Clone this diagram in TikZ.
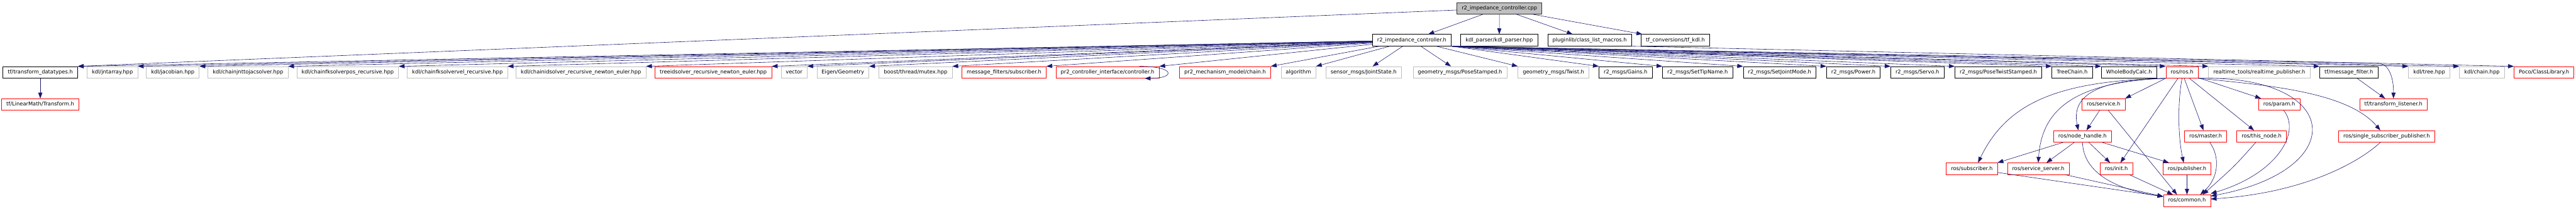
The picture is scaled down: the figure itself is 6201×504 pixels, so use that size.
\documentclass[tikz,border=0pt]{standalone}
\usepackage{fontspec}
\setmainfont{DejaVu Sans}
\usepackage{tikz}
\usetikzlibrary{arrows.meta}
\definecolor{edgeblue}{RGB}{25,25,112}
\definecolor{extgrey}{RGB}{191,191,191}

\begin{document}
\begin{tikzpicture}[x=1pt,y=-1pt,
  every node/.style={rectangle,draw,line width=1pt,minimum height=28pt,inner xsep=11.5pt,inner ysep=0pt,
    text height=9.4pt,text depth=2.6pt,font=\fontsize{12.6}{15}\selectfont},
  root/.style={fill=extgrey,draw=black!80},
  local/.style={draw=black},
  ext/.style={draw=extgrey},
  trunc/.style={draw=red},
  dep/.style={draw=edgeblue,line width=0.9pt,-{Triangle[length=14pt,width=10pt]}}]
  \path[fill=white] (0,0) rectangle (6201,504);
  \useasboundingbox (0,0) rectangle (6201,504);
  \node[root] (cpp) at (3609.5,20) {r2\_impedance\_controller.cpp};
  \node[local] (rich) at (3398.5,97) {r2\_impedance\_controller.h};
  \node[local] (kdlp) at (3609,97) {kdl\_parser/kdl\_parser.hpp};
  \node[local] (plug) at (3826.5,97) {pluginlib/class\_list\_macros.h};
  \node[local] (tfkdl) at (4033,97) {tf\_conversions/tf\_kdl.h};
  \node[local] (tfdt) at (97,174.5) {tf/transform\_datatypes.h};
  \node[ext] (jnt) at (270.5,174.5) {kdl/jntarray.hpp};
  \node[ext] (jac) at (416,174.5) {kdl/jacobian.hpp};
  \node[ext] (jtoj) at (597,174.5) {kdl/chainjnttojacsolver.hpp};
  \node[ext] (fkpos) at (837,174.5) {kdl/chainfksolverpos\_recursive.hpp};
  \node[ext] (fkvel) at (1101,174.5) {kdl/chainfksolvervel\_recursive.hpp};
  \node[ext] (idne) at (1398.5,174.5) {kdl/chainidsolver\_recursive\_newton\_euler.hpp};
  \node[trunc] (treeid) at (1717,174.5) {treeidsolver\_recursive\_newton\_euler.hpp};
  \node[ext] (vec) at (1911.5,174.5) {vector};
  \node[ext] (eigen) at (2029,174.5) {Eigen/Geometry};
  \node[ext] (mutex) at (2204,174.5) {boost/thread/mutex.hpp};
  \node[trunc] (mfsub) at (2417,174.5) {message\_filters/subscriber.h};
  \node[trunc] (ctrl) at (2666,174.5) {pr2\_controller\_interface/controller.h};
  \node[trunc] (mchain) at (2949,174.5) {pr2\_mechanism\_model/chain.h};
  \node[ext] (algo) at (3125.5,174.5) {algorithm};
  \node[ext] (jstate) at (3282.5,174.5) {sensor\_msgs/JointState.h};
  \node[ext] (pstamp) at (3514.5,174.5) {geometry\_msgs/PoseStamped.h};
  \node[ext] (twist) at (3739.5,174.5) {geometry\_msgs/Twist.h};
  \node[local] (gains) at (3913,174.5) {r2\_msgs/Gains.h};
  \node[local] (tipname) at (4086.5,174.5) {r2\_msgs/SetTipName.h};
  \node[local] (jmode) at (4284,174.5) {r2\_msgs/SetJointMode.h};
  \node[local] (power) at (4461.5,174.5) {r2\_msgs/Power.h};
  \node[local] (servo) at (4615.5,174.5) {r2\_msgs/Servo.h};
  \node[local] (ptwist) at (4810.5,174.5) {r2\_msgs/PoseTwistStamped.h};
  \node[local] (tchain) at (4988,174.5) {TreeChain.h};
  \node[local] (wbody) at (5125,174.5) {WholeBodyCalc.h};
  \node[trunc] (ros) at (5252.5,174.5) {ros/ros.h};
  \node[ext] (rtpub) at (5438.5,174.5) {realtime\_tools/realtime\_publisher.h};
  \node[local] (mfilter) at (5654,174.5) {tf/message\_filter.h};
  \node[ext] (ktree) at (5847.5,174.5) {kdl/tree.hpp};
  \node[ext] (kchain) at (5974.5,174.5) {kdl/chain.hpp};
  \node[trunc] (poco) at (6124,174.5) {Poco/ClassLibrary.h};
  \node[trunc] (ltrans) at (97,252) {tf/LinearMath/Transform.h};
  \node[trunc] (service) at (5063.5,252) {ros/service.h};
  \node[trunc] (param) at (5486.5,252) {ros/param.h};
  \node[trunc] (listener) at (5761.5,252) {tf/transform\_listener.h};
  \node[trunc] (nhandle) at (5013,329) {ros/node\_handle.h};
  \node[trunc] (master) at (5309.5,329) {ros/master.h};
  \node[trunc] (thisnode) at (5444,329) {ros/this\_node.h};
  \node[trunc] (single) at (5745,329) {ros/single\_subscriber\_publisher.h};
  \node[trunc] (subscr) at (4746.5,407) {ros/subscriber.h};
  \node[trunc] (sserver) at (4906.5,407) {ros/service\_server.h};
  \node[trunc] (init) at (5094.5,407) {ros/init.h};
  \node[trunc] (publ) at (5264.5,407) {ros/publisher.h};
  \node[trunc] (common) at (5264.5,484) {ros/common.h};
  \coordinate (lbend) at (5730,153);

  \draw[dep] (cpp) -- (rich); \draw[dep] (cpp) -- (kdlp); \draw[dep] (cpp) -- (plug);
  \draw[dep] (cpp) -- (tfkdl); \draw[dep] (cpp) -- (tfdt.north east);
  \draw[dep] (rich) -- (tfdt.north east); \draw[dep] (rich) -- (jnt.north east);
  \draw[dep] (rich) -- (jac.north east); \draw[dep] (rich) -- (jtoj.north east);
  \draw[dep] (rich) -- (fkpos.north east); \draw[dep] (rich) -- (fkvel.north east);
  \draw[dep] (rich) -- (idne.north east); \draw[dep] (rich) -- (treeid.north east);
  \draw[dep] (rich) -- (vec.north east); \draw[dep] (rich) -- (eigen.north east);
  \draw[dep] (rich) -- (mutex.north east); \draw[dep] (rich) -- (mfsub.north east);
  \draw[dep] (rich) -- (ctrl.north east); \draw[dep] (rich) -- (mchain.north east);
  \draw[dep] (rich) -- (algo.north east); \draw[dep] (rich) -- (jstate);
  \draw[dep] (rich) -- (pstamp); \draw[dep] (rich) -- (twist.north west);
  \draw[dep] (rich.south east) -- (gains.north west); \draw[dep] (rich.south east) -- (tipname.north west);
  \draw[dep] (rich.south east) -- (jmode.north west); \draw[dep] (rich.south east) -- (power.north west);
  \draw[dep] (rich.south east) -- (servo.north west); \draw[dep] (rich.south east) -- (ptwist.north west);
  \draw[dep] (rich.south east) -- (tchain.north west); \draw[dep] (rich.south east) -- (wbody.north west);
  \draw[dep] (rich.south east) -- (ros.north west); \draw[dep] (rich.south east) -- (rtpub.north west);
  \draw[dep] (rich.south east) -- (mfilter.north west); \draw[dep] (rich.south east) -- (ktree.north west);
  \draw[dep] (rich.south east) -- (kchain.north west);
  \draw[dep] (rich.south east) -- (lbend) .. controls (5752,158) and (5762,190) .. (listener.north);
  \draw[dep] (plug.south east) -- (poco.north west);
  \draw[dep] ([xshift=-48pt]ctrl.north east) .. controls (2830,160) and (2830,189) .. ([xshift=-35pt]ctrl.south east);
  \draw[dep] (tfdt) -- (ltrans);
  \draw[dep] (mfilter) -- (listener);

  \draw[dep] (ros.south west) -- (service.north east);
  \draw[dep] (ros.south west) .. controls (5050,192) and (4985,230) .. ([xshift=-10pt]nhandle.north);
  \draw[dep] (ros.south west) .. controls (4950,195) and (4830,250) .. ([xshift=15pt]subscr.north);
  \draw[dep] (ros.south west) .. controls (5000,197) and (4915,260) .. (sserver.north);
  \draw[dep] (ros) -- (init); \draw[dep] (ros) -- (master);
  \draw[dep] (ros) -- (thisnode); \draw[dep] (ros) -- (param);
  \draw[dep] (ros.south) .. controls (5240,260) and (5245,340) .. ([xshift=-8pt]publ.north);
  \draw[dep] (ros.south east) .. controls (5450,205) and (5650,220) .. ([xshift=-15pt]single.north);
  \draw[dep] (ros.south east) .. controls (5640,180) and (5660,410) .. ([yshift=11pt]common.east);
  \draw[dep] (service) -- (nhandle);
  \draw[dep] (service) -- ([xshift=-24pt]common.north);
  \draw[dep] (nhandle) -- (subscr.north east); \draw[dep] (nhandle) -- (sserver);
  \draw[dep] (nhandle) -- (init); \draw[dep] (nhandle) -- ([xshift=15pt]publ.north west);
  \draw[dep] (nhandle.south) .. controls (5015,410) and (5080,455) .. ([yshift=10pt]common.west);
  \draw[dep] (subscr) -- ([yshift=10pt]common.west);
  \draw[dep] (sserver) -- ([yshift=10pt]common.west);
  \draw[dep] (init) -- ([xshift=-34pt]common.north);
  \draw[dep] (publ) -- (common);
  \draw[dep] ([xshift=10pt]master.south) .. controls (5345,380) and (5340,430) .. ([xshift=32pt]common.north);
  \draw[dep] ([xshift=-14pt]thisnode.south) .. controls (5380,400) .. ([xshift=38pt]common.north);
  \draw[dep] ([xshift=11pt]param.south) .. controls (5540,320) and (5480,420) .. ([yshift=17pt]common.east);
  \draw[dep] ([xshift=-15pt]single.south) .. controls (5680,390) and (5550,465) .. ([yshift=4pt]common.east);
\end{tikzpicture}
\end{document}
